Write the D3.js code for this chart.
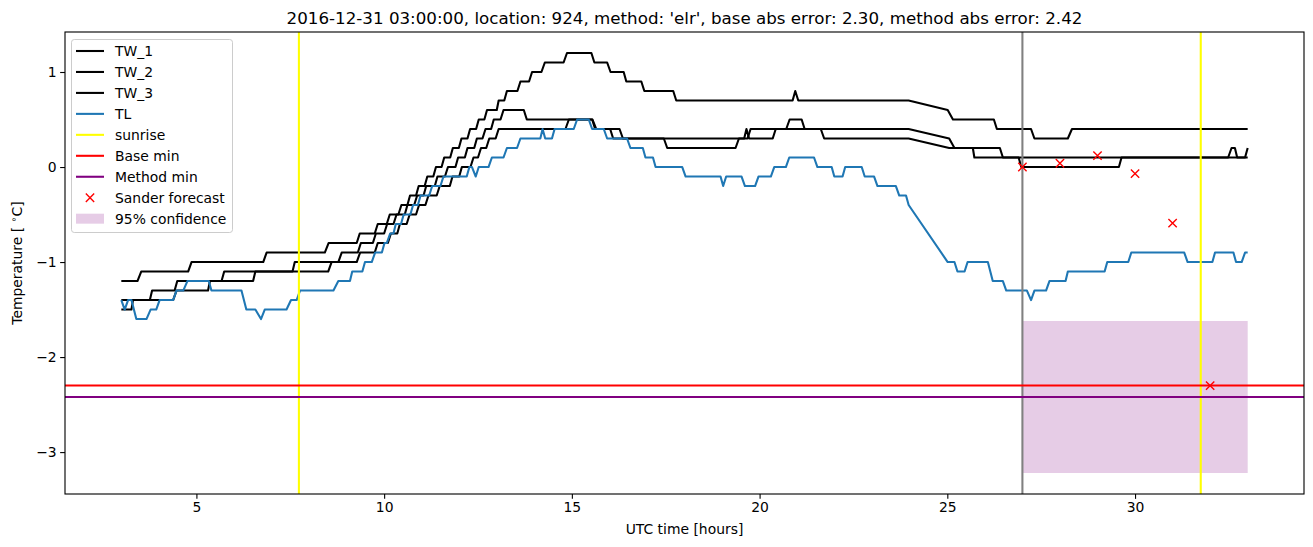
<!DOCTYPE html>
<html>
<head>
<meta charset="utf-8">
<script src="https://cdn.jsdelivr.net/npm/d3@7"></script>
<style>
  html, body { margin: 0; padding: 0; background: #fff; }
  svg { display: block; font-family: "DejaVu Sans", sans-serif; }
</style>
</head>
<body>
<svg id="chart" width="1313" height="547"></svg>
<script>
// ---------------- data ----------------
const titleText = "2016-12-31 03:00:00, location: 924, method: 'elr', base abs error: 2.30, method abs error: 2.42";
const xTicks = [5, 10, 15, 20, 25, 30];
const yTicks = [-3, -2, -1, 0, 1];

// vertices [time (h), temperature (°C)]
const TW_1 = [[3.0,-1.2],[3.43,-1.2],[3.53,-1.1],[4.78,-1.1],[4.87,-1.0],[6.78,-1.0],[6.87,-0.9],[8.42,-0.9],[8.52,-0.8],[9.27,-0.8],[9.35,-0.7],[9.75,-0.7],[9.83,-0.6],[10.07,-0.6],[10.15,-0.5],[10.38,-0.5],[10.46,-0.4],[10.62,-0.4],[10.69,-0.3],[10.85,-0.3],[10.92,-0.2],[11.08,-0.2],[11.15,-0.1],[11.31,-0.1],[11.38,0.0],[11.53,0.0],[11.6,0.1],[11.76,0.1],[11.83,0.2],[11.99,0.2],[12.06,0.3],[12.22,0.3],[12.29,0.4],[12.45,0.4],[12.52,0.5],[12.67,0.5],[12.74,0.6],[13.0,0.6],[13.05,0.7],[13.2,0.7],[13.27,0.8],[13.55,0.8],[13.63,0.9],[13.86,0.9],[13.94,1.0],[14.19,1.0],[14.28,1.1],[14.78,1.1],[14.87,1.2],[15.52,1.2],[15.6,1.1],[15.94,1.1],[16.03,1.0],[16.38,1.0],[16.45,0.9],[16.85,0.9],[16.93,0.8],[17.7,0.8],[17.78,0.7],[20.88,0.7],[20.95,0.8],[21.03,0.7],[23.97,0.7],[25.01,0.6],[25.15,0.5],[26.24,0.5],[26.32,0.4],[27.23,0.4],[27.32,0.3],[28.21,0.3],[28.32,0.4],[33.0,0.4]];

const TW_2 = [[3.0,-1.4],[3.76,-1.4],[3.82,-1.3],[4.42,-1.3],[4.49,-1.2],[5.67,-1.2],[5.74,-1.1],[7.56,-1.1],[7.62,-1.0],[8.78,-1.0],[8.87,-0.9],[9.3,-0.9],[9.38,-0.8],[9.7,-0.8],[9.78,-0.7],[10.0,-0.7],[10.08,-0.6],[10.25,-0.6],[10.33,-0.5],[10.55,-0.5],[10.62,-0.4],[10.8,-0.4],[10.88,-0.3],[11.05,-0.3],[11.12,-0.2],[11.35,-0.2],[11.42,-0.1],[11.62,-0.1],[11.7,0.0],[11.9,0.0],[11.97,0.1],[12.15,0.1],[12.22,0.2],[12.4,0.2],[12.47,0.3],[12.62,0.3],[12.7,0.4],[12.85,0.4],[12.92,0.5],[13.1,0.5],[13.18,0.6],[13.72,0.6],[13.8,0.5],[15.54,0.5],[15.62,0.4],[16.02,0.4],[16.1,0.3],[19.59,0.3],[19.65,0.4],[19.72,0.3],[20.35,0.3],[20.43,0.4],[20.71,0.4],[20.8,0.5],[21.12,0.5],[21.2,0.4],[23.97,0.4],[25.05,0.3],[25.19,0.2],[26.4,0.2],[26.48,0.1],[33.0,0.1]];

const TW_3 = [[3.0,-1.5],[3.27,-1.5],[3.31,-1.4],[4.38,-1.4],[4.47,-1.3],[5.31,-1.3],[5.36,-1.2],[6.51,-1.2],[6.57,-1.1],[8.51,-1.1],[8.6,-1.0],[9.27,-1.0],[9.36,-0.9],[9.75,-0.9],[9.83,-0.8],[10.1,-0.8],[10.18,-0.7],[10.35,-0.7],[10.42,-0.6],[10.6,-0.6],[10.68,-0.5],[10.85,-0.5],[10.93,-0.4],[11.1,-0.4],[11.18,-0.3],[11.4,-0.3],[11.48,-0.2],[11.75,-0.2],[11.82,-0.1],[12.0,-0.1],[12.07,0.0],[12.3,0.0],[12.38,0.1],[12.5,0.1],[12.58,0.2],[12.72,0.2],[12.8,0.3],[12.97,0.3],[13.05,0.4],[14.83,0.4],[14.92,0.5],[15.55,0.5],[15.65,0.4],[16.27,0.4],[16.36,0.3],[17.45,0.3],[17.54,0.2],[19.36,0.2],[19.45,0.3],[19.68,0.3],[19.76,0.4],[21.63,0.4],[21.72,0.3],[23.97,0.3],[25.05,0.2],[25.68,0.2],[25.72,0.1],[26.9,0.1],[26.97,0.0],[29.57,0.0],[29.64,0.1],[32.48,0.1],[32.57,0.2],[32.66,0.2],[32.72,0.1],[32.93,0.1],[33.0,0.2]];

const TL = [[3.0,-1.4],[3.09,-1.5],[3.18,-1.4],[3.27,-1.4],[3.40,-1.6],[3.67,-1.6],[3.78,-1.5],[3.93,-1.5],[4.02,-1.4],[4.38,-1.4],[4.47,-1.3],[4.65,-1.3],[4.76,-1.2],[5.33,-1.2],[5.40,-1.3],[6.20,-1.3],[6.33,-1.5],[6.57,-1.5],[6.72,-1.6],[6.82,-1.5],[7.40,-1.5],[7.52,-1.4],[7.67,-1.4],[7.76,-1.3],[8.65,-1.3],[8.78,-1.2],[9.09,-1.2],[9.15,-1.1],[9.42,-1.1],[9.49,-1.0],[9.67,-1.0],[9.76,-0.9],[9.94,-0.9],[10.01,-0.8],[10.07,-0.8],[10.16,-0.7],[10.25,-0.7],[10.31,-0.6],[10.45,-0.6],[10.52,-0.5],[10.70,-0.5],[10.77,-0.4],[10.90,-0.4],[10.97,-0.3],[11.20,-0.3],[11.28,-0.2],[11.50,-0.2],[11.58,-0.1],[12.20,-0.1],[12.27,0.0],[12.34,0.0],[12.44,-0.1],[12.52,0.0],[12.78,0.0],[12.87,0.1],[13.18,0.1],[13.27,0.2],[13.54,0.2],[13.63,0.3],[14.16,0.3],[14.22,0.4],[14.29,0.3],[14.47,0.3],[14.54,0.4],[15.05,0.4],[15.14,0.5],[15.45,0.5],[15.54,0.4],[15.85,0.4],[15.94,0.3],[16.47,0.3],[16.56,0.2],[16.89,0.2],[16.96,0.1],[17.16,0.1],[17.23,0.0],[17.94,0.0],[18.03,-0.1],[18.96,-0.1],[19.03,-0.2],[19.11,-0.1],[19.52,-0.1],[19.61,-0.2],[19.88,-0.2],[19.97,-0.1],[20.30,-0.1],[20.39,0.0],[20.70,0.0],[20.79,0.1],[21.45,0.1],[21.54,0.0],[21.92,0.0],[21.99,-0.1],[22.21,-0.1],[22.28,0.0],[22.72,0.0],[22.80,-0.1],[23.05,-0.1],[23.14,-0.2],[23.63,-0.2],[23.72,-0.3],[23.90,-0.3],[23.97,-0.4],[25.01,-1.0],[25.19,-1.0],[25.27,-1.1],[25.46,-1.1],[25.54,-1.0],[26.08,-1.0],[26.21,-1.2],[26.48,-1.2],[26.57,-1.3],[27.12,-1.3],[27.23,-1.4],[27.32,-1.3],[27.63,-1.3],[27.72,-1.2],[28.15,-1.2],[28.21,-1.1],[29.19,-1.1],[29.26,-1.0],[29.82,-1.0],[29.90,-0.9],[31.31,-0.9],[31.40,-1.0],[32.06,-1.0],[32.13,-0.9],[32.62,-0.9],[32.69,-1.0],[32.84,-1.0],[32.93,-0.9],[33.0,-0.9]];

const sunriseTimes = [7.73, 31.75];
const forecastStart = 27;
const baseMin = -2.30;
const methodMin = -2.42;
const forecastTimes = [27, 28, 29, 30, 31, 32];
const forecastValues = [0.0, 0.04, 0.12, -0.07, -0.59, -2.30];
const confTimes = [27, 33];
const confBounds = [-3.22, -1.62];

const legendLabels = ["TW_1", "TW_2", "TW_3", "TL", "sunrise", "Base min", "Method min", "Sander forecast", "95% confidence"];

// ---------------- layout ----------------
const svg = d3.select("#chart");
const L = 65, R = 1304, T = 32, B = 494;
const LW = 2.08;   // 1.5 pt line width at 100 dpi
const x = d3.scaleLinear().domain([1.5, 34.5]).range([L, R]);
const y = d3.scaleLinear().domain([-3.441, 1.421]).range([B, T]);

const fmt = d => (d < 0 ? "\u2212" + Math.abs(d) : String(d));

svg.append("defs").append("clipPath").attr("id", "clip")
  .append("rect").attr("x", L).attr("y", T).attr("width", R - L).attr("height", B - T);

const plot = svg.append("g").attr("clip-path", "url(#clip)");

// confidence band
plot.append("rect")
  .attr("x", x(confTimes[0])).attr("width", x(confTimes[1]) - x(confTimes[0]))
  .attr("y", y(confBounds[1])).attr("height", y(confBounds[0]) - y(confBounds[1]))
  .attr("fill", "purple").attr("fill-opacity", 0.2);

const line = d3.line().x(d => x(d[0])).y(d => y(d[1]));
[[TW_1, "black"], [TW_2, "black"], [TW_3, "black"], [TL, "#1f77b4"]].forEach(([s, c]) => {
  plot.append("path").datum(s).attr("d", line)
    .attr("fill", "none").attr("stroke", c).attr("stroke-width", LW)
    .attr("stroke-linejoin", "round");
});

// forecast start line
plot.append("line").attr("x1", x(forecastStart)).attr("x2", x(forecastStart))
  .attr("y1", T).attr("y2", B).attr("stroke", "gray").attr("stroke-width", LW);

// sunrise lines
sunriseTimes.forEach(t => {
  plot.append("line").attr("x1", x(t)).attr("x2", x(t)).attr("y1", T).attr("y2", B)
    .attr("stroke", "yellow").attr("stroke-width", LW);
});

// min lines
[[baseMin, "red"], [methodMin, "purple"]].forEach(([v, c]) => {
  plot.append("line").attr("x1", L).attr("x2", R).attr("y1", y(v)).attr("y2", y(v))
    .attr("stroke", c).attr("stroke-width", LW);
});

// forecast markers
const ms = 4.17;
forecastTimes.forEach((t, i) => {
  const cx = x(t), cy = y(forecastValues[i]);
  plot.append("path")
    .attr("d", `M${cx - ms},${cy - ms}L${cx + ms},${cy + ms}M${cx - ms},${cy + ms}L${cx + ms},${cy - ms}`)
    .attr("stroke", "red").attr("stroke-width", 1.39).attr("fill", "none");
});

// axes
const xAxis = svg.append("g").attr("transform", `translate(0,${B})`)
  .call(d3.axisBottom(x).tickValues(xTicks).tickFormat(fmt).tickSize(4.86).tickPadding(3.5).tickSizeOuter(0));
const yAxis = svg.append("g").attr("transform", `translate(${L},0)`)
  .call(d3.axisLeft(y).tickValues(yTicks).tickFormat(fmt).tickSize(4.86).tickPadding(3.5).tickSizeOuter(0));
[xAxis, yAxis].forEach(a => {
  a.select(".domain").remove();
  a.selectAll(".tick line").attr("stroke", "black").attr("stroke-width", 1.11);
  a.selectAll(".tick text").attr("fill", "black").style("font-size", "13.9px")
    .style("font-family", "DejaVu Sans");
});

// frame
svg.append("rect").attr("x", L).attr("y", T).attr("width", R - L).attr("height", B - T)
  .attr("fill", "none").attr("stroke", "black").attr("stroke-width", 1.11);

// title and labels
svg.append("text").attr("x", (L + R) / 2).attr("y", 24).attr("text-anchor", "middle")
  .style("font-size", "16.7px").attr("fill", "black").text(titleText);
svg.append("text").attr("x", (L + R) / 2).attr("y", 534).attr("text-anchor", "middle")
  .style("font-size", "13.9px").attr("fill", "black").text("UTC time [hours]");
const yl = svg.append("text").attr("transform", `translate(22,${(T + B) / 2}) rotate(-90)`)
  .attr("text-anchor", "middle").style("font-size", "13.9px").attr("fill", "black");
yl.append("tspan").text("Temperature [ ");
yl.append("tspan").attr("dy", -5).style("font-size", "9.7px").text("\u2218");
yl.append("tspan").attr("dy", 5).text("C]");

// legend
const lg = svg.append("g");
lg.append("rect").attr("x", 71.5).attr("y", 39.5).attr("width", 161).attr("height", 193)
  .attr("rx", 2.8).attr("fill", "white").attr("fill-opacity", 0.8)
  .attr("stroke", "#cccccc").attr("stroke-width", 1);
const legendColors = ["black", "black", "black", "#1f77b4", "yellow", "red", "purple", "red", "purple"];
legendLabels.forEach((lab, i) => {
  const cy = 51 + i * 20.96;
  if (i < 7) {
    lg.append("line").attr("x1", 76).attr("x2", 104).attr("y1", cy).attr("y2", cy)
      .attr("stroke", legendColors[i]).attr("stroke-width", LW);
  } else if (i === 7) {
    const cx = 90;
    lg.append("path")
      .attr("d", `M${cx - ms},${cy - ms}L${cx + ms},${cy + ms}M${cx - ms},${cy + ms}L${cx + ms},${cy - ms}`)
      .attr("stroke", "red").attr("stroke-width", 1.39).attr("fill", "none");
  } else {
    lg.append("rect").attr("x", 76).attr("y", cy - 5).attr("width", 28).attr("height", 10)
      .attr("fill", "purple").attr("fill-opacity", 0.2);
  }
  lg.append("text").attr("x", 115).attr("y", cy + 5).style("font-size", "13.9px")
    .attr("fill", "black").text(lab);
});
</script>
</body>
</html>
